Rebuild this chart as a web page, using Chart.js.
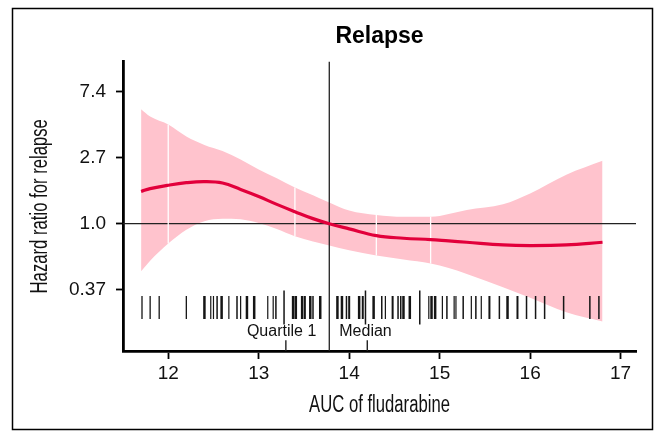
<!DOCTYPE html>
<html>
<head>
<meta charset="utf-8">
<script src="https://cdn.jsdelivr.net/npm/chart.js@4"></script>
<style>
  html, body { margin: 0; padding: 0; background: #fff; }
  #wrap { width: 658px; height: 431px; position: relative; }
</style>
</head>
<body>
<div id="wrap"><canvas id="c"></canvas></div>
<script>
// ---- data ----
const gridX   = [11.7, 11.8, 12.0, 12.2, 12.4, 12.6, 12.8, 13.0, 13.2, 13.4, 13.6, 13.78, 14.0, 14.3, 14.6, 14.9, 15.1, 15.3, 15.7, 16.0, 16.4, 16.8];
const hr      = [1.63, 1.70, 1.79, 1.86, 1.89, 1.85, 1.68, 1.51, 1.34, 1.20, 1.08, 1.00, 0.925, 0.835, 0.803, 0.787, 0.771, 0.756, 0.726, 0.719, 0.726, 0.756];
const hrUpper = [5.64, 5.05, 4.48, 3.74, 3.29, 3.00, 2.64, 2.27, 1.99, 1.73, 1.54, 1.38, 1.22, 1.14, 1.11, 1.11, 1.16, 1.23, 1.34, 1.58, 2.10, 2.59];
const hrLower = [0.487, 0.571, 0.741, 0.914, 1.04, 1.08, 1.07, 1.01, 0.923, 0.827, 0.763, 0.719, 0.670, 0.619, 0.583, 0.549, 0.512, 0.468, 0.383, 0.326, 0.262, 0.228];
const seamIdx = [2, 9, 13, 15];

const rugX = [11.71,11.80,11.90,12.20,12.40,12.47,12.50,12.54,12.59,12.67,12.76,12.80,12.87,12.95,13.10,13.16,13.19,13.38,13.41,13.48,13.51,13.57,13.60,13.68,13.87,13.92,13.97,14.00,14.11,14.15,14.27,14.36,14.40,14.48,14.54,14.57,14.60,14.67,14.88,14.91,14.95,15.03,15.08,15.16,15.18,15.26,15.35,15.40,15.46,15.55,15.66,15.75,15.86,15.96,16.06,16.16,16.37,16.66,16.76];
const rugW = [1.3,1.3,1.3,1.3,2.5,1.2,1.2,1.5,2.5,1.2,1.5,1.2,2.5,2.5,1.2,1.2,1.5,2.5,2.5,2.5,2.0,2.5,1.5,2.5,2.5,2.5,1.5,2.0,2.5,2.0,2.5,1.5,1.2,2.0,1.5,1.5,2.5,2.5,1.2,2.5,2.5,1.2,1.5,1.2,1.2,1.5,1.2,1.5,1.2,2.0,1.5,2.5,2.0,1.5,1.5,1.5,1.5,1.5,1.5];
const rugTallX = [13.28, 14.18, 14.78];
const rugY = 0.282;

const medianX = 13.78;
const quartTickX = [13.3, 14.2];
const quartTickTop = 0.172;
const labelY = 0.195;

const xMin = 11.5, xMax = 17.17;
const yMin = 0.146, yMax = 11.6;
const xTicks = [12, 13, 14, 15, 16, 17];
const yTickValues = [Math.exp(-1), 1, Math.exp(1), Math.exp(2)];
const yTickLabels = ["0.37", "1.0", "2.7", "7.4"];

const titleText = "Relapse";
const xTitle = "AUC of fludarabine";
const yTitle = "Hazard ratio for relapse";
const labelQ1 = "Quartile 1";
const labelMed = "Median";

// ---- build ----
const pts = (xs, ys) => xs.map((x, i) => ({x: x, y: ys[i]}));
const curveData = pts(gridX, hr);
const upperData = pts(gridX, hrUpper);
const lowerData = pts(gridX, hrLower);

const seamSets = seamIdx.map(i => ({
  data: [{x: gridX[i], y: hrLower[i]}, {x: gridX[i], y: hrUpper[i]}],
  borderColor: '#ffffff', borderWidth: 1.3, pointRadius: 0, fill: false, tension: 0
}));
const qTickSets = quartTickX.map(x => ({
  data: [{x: x, y: yMin}, {x: x, y: quartTickTop}],
  borderColor: '#222', borderWidth: 1.4, pointRadius: 0, fill: false, tension: 0
}));

const sans = "'Liberation Sans', Arial, Helvetica, sans-serif";
const condensedScale = 0.725;

const extras = {
  id: 'extras',
  afterDraw(chart) {
    const ctx = chart.ctx;
    const xs = chart.scales.x, ys = chart.scales.y;
    const area = chart.chartArea;
    ctx.save();
    ctx.fillStyle = '#111';
    ctx.font = "16px " + sans;
    ctx.textBaseline = 'middle';
    const mx = xs.getPixelForValue(medianX);
    const ly = ys.getPixelForValue(labelY);
    ctx.textAlign = 'right';
    ctx.fillText(labelQ1, mx - 13, ly);
    ctx.textAlign = 'left';
    ctx.fillText(labelMed, mx + 10, ly);

    // condensed axis titles
    ctx.font = "23px " + sans;
    ctx.textAlign = 'center';
    ctx.save();
    ctx.translate((area.left + area.right) / 2, 406);
    ctx.scale(condensedScale, 1);
    ctx.fillText(xTitle, 0, 0);
    ctx.restore();
    ctx.save();
    ctx.translate(40.5, (area.top + area.bottom) / 2);
    ctx.rotate(-Math.PI / 2);
    ctx.scale(condensedScale, 1);
    ctx.fillText(yTitle, 0, 0);
    ctx.restore();

    // frame
    ctx.strokeStyle = '#000';
    ctx.lineWidth = 1.5;
    ctx.strokeRect(12.5, 8.5, 640, 421);
    ctx.restore();
  }
};

new Chart(document.getElementById('c'), {
  type: 'line',
  data: {
    datasets: [
      { data: curveData, borderColor: '#E2003B', borderWidth: 3.2, pointRadius: 0, fill: false, tension: 0.4 },
      ...seamSets,
      { data: pts(rugX, rugX.map(() => rugY)), showLine: false, pointStyle: 'line', rotation: 90, pointRadius: 11.5, pointBorderWidth: rugW, pointBorderColor: '#151515', pointBackgroundColor: '#151515' },
      { data: pts(rugTallX, rugTallX.map(() => rugY)), showLine: false, pointStyle: 'line', rotation: 90, pointRadius: 17, pointBorderWidth: 1.5, pointBorderColor: '#151515', pointBackgroundColor: '#151515' },
      ...qTickSets,
      { data: [{x: medianX, y: yMin}, {x: medianX, y: yMax}], borderColor: '#222', borderWidth: 1.3, pointRadius: 0, fill: false, tension: 0 },
      { data: [{x: xMin, y: 1}, {x: xMax, y: 1}], borderColor: '#222', borderWidth: 1.3, pointRadius: 0, fill: false, tension: 0 },
      { data: upperData, borderWidth: 0, borderColor: 'rgba(0,0,0,0)', pointRadius: 0, fill: '+1', backgroundColor: '#FFC3CD', cubicInterpolationMode: 'monotone' },
      { data: lowerData, borderWidth: 0, borderColor: 'rgba(0,0,0,0)', pointRadius: 0, fill: false, cubicInterpolationMode: 'monotone' }
    ]
  },
  options: {
    responsive: true,
    maintainAspectRatio: false,
    animation: false,
    events: [],
    layout: { padding: { top: 0, right: 22, left: 0, bottom: 0 } },
    plugins: {
      legend: { display: false },
      tooltip: { enabled: false },
      title: {
        display: true, text: titleText, fullSize: false,
        color: '#000', font: { family: sans, size: 23, weight: 'bold' },
        padding: { top: 23, bottom: 11 }
      }
    },
    scales: {
      x: {
        type: 'linear', min: xMin, max: xMax,
        afterBuildTicks: s => { s.ticks = xTicks.map(v => ({value: v})); },
        afterFit: s => { s.height = 80; },
        border: { display: true, color: '#000', width: 2.8 },
        grid: { display: true, drawOnChartArea: false, drawTicks: true, tickLength: 8, color: '#000', tickWidth: 1.8 },
        ticks: { color: '#111', font: { family: sans, size: 19 }, padding: 3, maxRotation: 0, autoSkip: false },
        title: { display: false }
      },
      y: {
        type: 'logarithmic', min: yMin, max: yMax,
        afterBuildTicks: s => { s.ticks = yTickValues.map(v => ({value: v})); },
        afterFit: s => { s.width = 123; },
        border: { display: true, color: '#000', width: 2.8 },
        grid: { display: true, drawOnChartArea: false, drawTicks: true, tickLength: 7, color: '#000', tickWidth: 1.8 },
        ticks: { color: '#111', font: { family: sans, size: 19 }, padding: 10, autoSkip: false,
          callback: (v, i) => yTickLabels[i] },
        title: { display: false }
      }
    }
  },
  plugins: [extras]
});
</script>
</body>
</html>
